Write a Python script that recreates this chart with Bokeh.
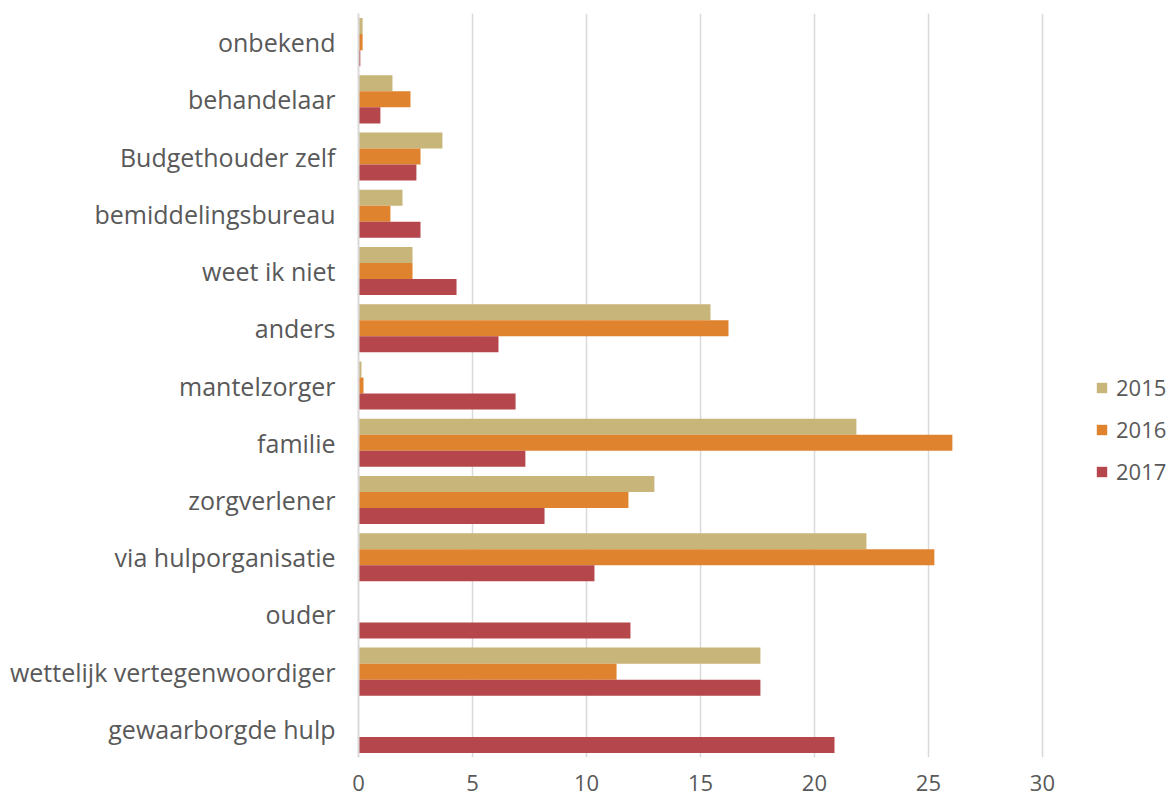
from bokeh.plotting import figure
from bokeh.models import ColumnDataSource, FactorRange, Range1d, FixedTicker, Legend, LegendItem
from bokeh.transform import dodge
from bokeh.embed import file_html
from bokeh.resources import INLINE

categories = ["onbekend", "behandelaar", "Budgethouder zelf", "bemiddelingsbureau",
              "weet ik niet", "anders", "mantelzorger", "familie", "zorgverlener",
              "via hulporganisatie", "ouder", "wettelijk vertegenwoordiger", "gewaarborgde hulp"]
v2015 = [0.18, 1.49, 3.68, 1.93, 2.37, 15.44, 0.13, 21.84, 12.98, 22.28, 0.0, 17.63, 0.0]
v2016 = [0.18, 2.28, 2.72, 1.40, 2.37, 16.23, 0.22, 26.05, 11.84, 25.26, 0.0, 11.32, 0.0]
v2017 = [0.08, 0.96, 2.54, 2.72, 4.30, 6.14, 6.89, 7.32, 8.16, 10.35, 11.93, 17.63, 20.88]
years = ["2015", "2016", "2017"]
colors = ["#C8B57A", "#E0832E", "#B5464B"]
x_ticks = [0, 5, 10, 15, 20, 25, 30]

FONT = "Open Sans"
TEXT = "#595959"
GRID = "#D9D9D9"

src = ColumnDataSource(dict(cat=categories, y2015=v2015, y2016=v2016, y2017=v2017))

# frame spans to the right edge so the legend can sit beside the 0-30 grid
p = figure(width=1173, height=798, output_backend="svg", toolbar_location=None,
           y_range=FactorRange(factors=categories[::-1], range_padding=0, factor_padding=0),
           x_range=Range1d(0, 35.75),
           min_border_left=358, min_border_right=0, min_border_top=13, min_border_bottom=41)
p.outline_line_color = None

bw = 0.28
renderers = []
for yr, col, off in zip(years, colors, [bw, 0.0, -bw]):
    r = p.hbar(y=dodge("cat", off, range=p.y_range), left=0, right="y" + yr, height=bw,
               source=src, fill_color=col, line_color=None)
    renderers.append(r)

p.ygrid.grid_line_color = None
p.xgrid.grid_line_color = GRID
p.xgrid.grid_line_width = 1.5
p.xaxis.ticker = FixedTicker(ticks=x_ticks)
p.xaxis.axis_line_color = None
p.xaxis.major_tick_line_color = None
p.xaxis.minor_tick_line_color = None
p.xaxis.major_tick_out = 0
p.xaxis.major_tick_in = 0
p.xaxis.major_label_text_font = FONT
p.xaxis.major_label_text_font_size = "22px"
p.xaxis.major_label_text_color = TEXT
p.xaxis.major_label_standoff = 17

p.yaxis.axis_line_color = GRID
p.yaxis.axis_line_width = 2
p.yaxis.major_tick_line_color = None
p.yaxis.minor_tick_line_color = None
p.yaxis.major_tick_out = 0
p.yaxis.major_tick_in = 0
p.yaxis.major_label_text_font = FONT
p.yaxis.major_label_text_font_size = "25px"
p.yaxis.major_label_text_color = TEXT
p.yaxis.major_label_standoff = 23

legend = Legend(items=[LegendItem(label=y, renderers=[r]) for y, r in zip(years, renderers)],
                location=(737, 271), padding=0, margin=0, spacing=12,
                glyph_width=13, glyph_height=13, label_height=30, label_standoff=8,
                label_text_font=FONT, label_text_font_size="22px", label_text_color=TEXT,
                border_line_color=None, background_fill_alpha=0)
p.add_layout(legend, "center")

open("out.html", "w").write(file_html(p, INLINE))
